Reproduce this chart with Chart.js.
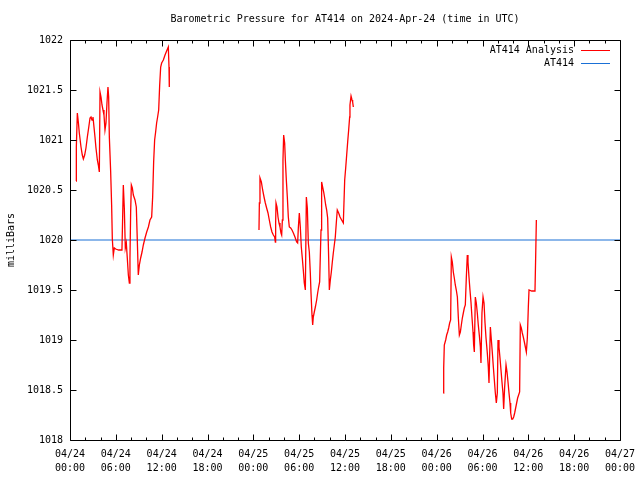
<!DOCTYPE html>
<html>
<head>
<meta charset="utf-8">
<script src="https://cdn.jsdelivr.net/npm/chart.js@4.4.1/dist/chart.umd.min.js"></script>
<style>
	html, body { margin: 0; padding: 0; background: #fff; }
	canvas { display: block; }
</style>
</head>
<body>
<canvas id="pressure-chart" width="640" height="480"></canvas>
<script>
const chartTitle = "Barometric Pressure for AT414 on 2024-Apr-24 (time in UTC)";
const yAxisTitle = "milliBars";
const seriesNames = ["AT414 Analysis", "AT414"];

// hours after 04/24 00:00 UTC
const run1Hours = [0.79, 0.83, 0.96, 1.09, 1.22, 1.44, 1.61, 1.75, 1.92, 2.09, 2.27, 2.44, 2.62, 2.75, 2.88, 3.01, 3.14, 3.27, 3.40, 3.58, 3.71, 3.84, 3.93, 4.06, 4.19, 4.32, 4.45, 4.58, 4.71, 4.84, 4.97, 5.06, 5.15, 5.32, 5.45, 5.54, 5.67, 5.80, 5.98, 6.37, 6.80, 6.89, 6.98, 7.11, 7.24, 7.37, 7.50, 7.64, 7.77, 7.85, 7.94, 8.03, 8.16, 8.29, 8.51, 8.68, 8.81, 8.94, 9.08, 9.25, 9.43, 9.60, 9.82, 10.04, 10.26, 10.47, 10.69, 10.82, 10.95, 11.08, 11.21, 11.34, 11.47, 11.61, 11.74, 11.87, 12.00, 12.22, 12.44, 12.65, 12.87, 12.96, 13.00];
const run1Values = [1020.59, 1020.93, 1021.27, 1021.18, 1021.07, 1020.93, 1020.85, 1020.81, 1020.85, 1020.92, 1021.03, 1021.12, 1021.22, 1021.23, 1021.20, 1021.23, 1021.13, 1021.03, 1020.92, 1020.80, 1020.75, 1020.68, 1021.48, 1021.43, 1021.35, 1021.30, 1021.25, 1021.10, 1021.17, 1021.37, 1021.53, 1021.43, 1021.03, 1020.69, 1020.35, 1020.01, 1019.85, 1019.92, 1019.91, 1019.90, 1019.90, 1020.22, 1020.55, 1020.32, 1019.92, 1019.97, 1019.82, 1019.65, 1019.57, 1019.82, 1020.28, 1020.55, 1020.52, 1020.45, 1020.40, 1020.33, 1020.00, 1019.65, 1019.75, 1019.82, 1019.88, 1019.95, 1020.02, 1020.08, 1020.13, 1020.20, 1020.23, 1020.43, 1020.78, 1021.00, 1021.08, 1021.17, 1021.23, 1021.30, 1021.55, 1021.73, 1021.77, 1021.80, 1021.85, 1021.89, 1021.93, 1021.73, 1021.53];

const run2Hours = [24.74, 24.79, 24.87, 25.05, 25.22, 25.40, 25.57, 25.74, 25.92, 26.09, 26.27, 26.44, 26.62, 26.79, 26.88, 26.92, 26.97, 27.10, 27.23, 27.36, 27.49, 27.62, 27.71, 27.80, 27.88, 27.97, 28.10, 28.19, 28.32, 28.45, 28.58, 28.71, 28.89, 29.06, 29.24, 29.45, 29.67, 29.80, 29.89, 30.02, 30.15, 30.28, 30.41, 30.54, 30.67, 30.81, 30.94, 31.07, 31.20, 31.33, 31.46, 31.55, 31.68, 31.77, 31.85, 31.98, 32.12, 32.29, 32.42, 32.55, 32.68, 32.86, 32.94, 33.07, 33.21, 33.34, 33.47, 33.60, 33.73, 33.86, 33.95, 34.08, 34.21, 34.34, 34.47, 34.60, 34.73, 34.86, 34.99, 35.17, 35.35, 35.56, 35.78, 35.96, 36.09, 36.22, 36.35, 36.48, 36.61, 36.65, 36.79, 36.92, 37.00, 37.09];
const run2Values = [1020.10, 1020.37, 1020.62, 1020.58, 1020.50, 1020.43, 1020.37, 1020.32, 1020.27, 1020.20, 1020.13, 1020.08, 1020.05, 1020.03, 1019.98, 1020.17, 1020.37, 1020.33, 1020.23, 1020.17, 1020.13, 1020.07, 1020.05, 1020.20, 1020.80, 1021.05, 1020.97, 1020.80, 1020.60, 1020.43, 1020.23, 1020.13, 1020.12, 1020.10, 1020.07, 1020.03, 1019.98, 1019.97, 1020.12, 1020.27, 1020.13, 1019.93, 1019.82, 1019.70, 1019.57, 1019.50, 1020.43, 1020.32, 1019.97, 1019.88, 1019.67, 1019.47, 1019.25, 1019.15, 1019.23, 1019.28, 1019.33, 1019.40, 1019.47, 1019.53, 1019.58, 1020.10, 1020.58, 1020.53, 1020.48, 1020.42, 1020.35, 1020.30, 1020.22, 1019.83, 1019.50, 1019.60, 1019.68, 1019.78, 1019.87, 1019.95, 1020.03, 1020.17, 1020.30, 1020.27, 1020.23, 1020.20, 1020.17, 1020.60, 1020.72, 1020.85, 1020.98, 1021.10, 1021.23, 1021.35, 1021.44, 1021.40, 1021.38, 1021.33];

const run3Hours = [48.87, 48.92, 49.00, 49.18, 49.31, 49.44, 49.57, 49.70, 49.83, 49.92, 50.05, 50.18, 50.31, 50.44, 50.57, 50.71, 50.84, 50.97, 51.10, 51.23, 51.36, 51.49, 51.62, 51.75, 51.88, 52.01, 52.10, 52.23, 52.36, 52.49, 52.62, 52.76, 52.84, 52.93, 53.06, 53.19, 53.32, 53.45, 53.58, 53.72, 53.80, 53.93, 54.07, 54.20, 54.33, 54.46, 54.63, 54.76, 54.85, 55.03, 55.16, 55.29, 55.42, 55.55, 55.68, 55.81, 55.94, 56.03, 56.16, 56.29, 56.42, 56.55, 56.68, 56.77, 56.90, 57.08, 57.21, 57.34, 57.47, 57.60, 57.69, 57.82, 57.95, 58.08, 58.21, 58.34, 58.47, 58.60, 58.73, 58.86, 58.95, 59.08, 59.21, 59.34, 59.48, 59.61, 59.74, 59.87, 60.00, 60.09, 60.44, 60.87, 60.96, 61.05];
const run3Values = [1018.47, 1018.72, 1018.95, 1019.00, 1019.05, 1019.08, 1019.12, 1019.17, 1019.20, 1019.83, 1019.78, 1019.68, 1019.62, 1019.55, 1019.50, 1019.43, 1019.22, 1019.05, 1019.08, 1019.15, 1019.22, 1019.27, 1019.32, 1019.35, 1019.62, 1019.85, 1019.78, 1019.63, 1019.50, 1019.38, 1019.23, 1019.08, 1018.95, 1018.88, 1019.43, 1019.37, 1019.27, 1019.15, 1019.05, 1018.93, 1018.77, 1019.27, 1019.43, 1019.37, 1019.17, 1019.02, 1018.87, 1018.73, 1018.57, 1019.13, 1019.00, 1018.87, 1018.73, 1018.60, 1018.47, 1018.37, 1018.47, 1019.00, 1018.93, 1018.82, 1018.70, 1018.58, 1018.47, 1018.31, 1018.53, 1018.75, 1018.68, 1018.58, 1018.47, 1018.37, 1018.27, 1018.21, 1018.21, 1018.23, 1018.27, 1018.32, 1018.37, 1018.42, 1018.45, 1018.48, 1019.15, 1019.12, 1019.07, 1019.03, 1018.98, 1018.93, 1018.88, 1019.02, 1019.33, 1019.50, 1019.49, 1019.49, 1019.83, 1020.20];

const stationHours = [0, 72];
const stationValues = [1020, 1020];

const tickDates = ["04/24", "04/24", "04/24", "04/24", "04/25", "04/25", "04/25", "04/25", "04/26", "04/26", "04/26", "04/26", "04/27"];
const tickTimes = ["00:00", "06:00", "12:00", "18:00", "00:00", "06:00", "12:00", "18:00", "00:00", "06:00", "12:00", "18:00", "00:00"];

const monoFont = "DejaVu Sans Mono";
const redColor = "#ff0000";
const blueColor = "#1a70d6";

function toPoints(hours, values) {
	return hours.map((h, i) => ({ x: h, y: values[i] }));
}

function analysisPoints() {
	const gap = (h) => ({ x: h, y: null });
	return [
		...toPoints(run1Hours, run1Values),
		gap(18),
		...toPoints(run2Hours, run2Values),
		gap(42),
		...toPoints(run3Hours, run3Values),
	];
}

const framePlugin = {
	id: "frame",
	afterDraw(chart) {
		const ctx = chart.ctx;
		const area = chart.chartArea;
		const xs = chart.scales.x;
		const ys = chart.scales.y;
		const L = Math.round(area.left) + 0.5;
		const R = Math.round(area.right) + 0.5;
		const T = Math.round(area.top) + 0.5;
		const B = Math.round(area.bottom) + 0.5;
		ctx.save();
		ctx.strokeStyle = "#000";
		ctx.lineWidth = 1;
		ctx.beginPath();
		ctx.rect(L, T, R - L, B - T);
		xs.ticks.forEach((t) => {
			const px = Math.round(xs.getPixelForValue(t.value)) + 0.5;
			const len = t.value % 6 === 0 ? 6 : 3;
			ctx.moveTo(px, B);
			ctx.lineTo(px, B - len);
			ctx.moveTo(px, T);
			ctx.lineTo(px, T + len);
		});
		ys.ticks.forEach((t) => {
			const py = Math.round(ys.getPixelForValue(t.value)) + 0.5;
			ctx.moveTo(L, py);
			ctx.lineTo(L + 6, py);
			ctx.moveTo(R, py);
			ctx.lineTo(R - 6, py);
		});
		ctx.stroke();

		// title
		ctx.fillStyle = "#000";
		ctx.font = "10px '" + monoFont + "'";
		ctx.textAlign = "center";
		ctx.textBaseline = "middle";
		ctx.fillText(chartTitle, (area.left + area.right) / 2, 19);

		// legend, text left of sample line
		ctx.textAlign = "right";
		chart.data.datasets.forEach((ds, i) => {
			const y = 50 + i * 13;
			ctx.fillText(ds.label, 574, y);
			ctx.strokeStyle = ds.borderColor;
			ctx.beginPath();
			ctx.moveTo(581, Math.round(y) + 0.5);
			ctx.lineTo(610, Math.round(y) + 0.5);
			ctx.stroke();
		});
		ctx.restore();
	},
};

function drawPressureChart() {
	const ctx = document.getElementById("pressure-chart").getContext("2d");

	new Chart(ctx, {
		type: "line",
		data: {
			datasets: [
				{
					label: seriesNames[0],
					data: analysisPoints(),
					borderColor: redColor,
					borderWidth: 1.3,
					pointRadius: 0,
					spanGaps: false,
					tension: 0,
				},
				{
					label: seriesNames[1],
					data: toPoints(stationHours, stationValues),
					borderColor: blueColor,
					borderWidth: 1.2,
					pointRadius: 0,
					tension: 0,
				},
			],
		},
		options: {
			responsive: false,
			animation: false,
			devicePixelRatio: 1,
			layout: {
				padding: { top: 40, right: 20, left: 0, bottom: 0 },
			},
			plugins: {
				legend: { display: false },
				title: { display: false },
				tooltip: { enabled: false },
			},
			scales: {
				x: {
					type: "linear",
					min: 0,
					max: 72,
					grid: { display: false, drawTicks: false },
					border: { display: false },
					ticks: {
						stepSize: 2,
						autoSkip: false,
						maxRotation: 0,
						padding: 7,
						color: "#000",
						font: { family: monoFont, size: 10, lineHeight: 1.4 },
						callback: (v) =>
							v % 6 === 0 ? [tickDates[v / 6], tickTimes[v / 6]] : "",
					},
					afterFit: (scale) => {
						scale.height = 40;
						scale.paddingLeft = 0;
						scale.paddingRight = 0;
					},
				},
				y: {
					min: 1018,
					max: 1022,
					grid: { display: false, drawTicks: false },
					border: { display: false },
					ticks: {
						stepSize: 0.5,
						padding: 7,
						color: "#000",
						font: { family: monoFont, size: 10 },
						callback: (v) => String(v),
					},
					title: {
						display: true,
						text: yAxisTitle,
						color: "#000",
						font: { family: monoFont, size: 10 },
						padding: { top: 5, bottom: 4 },
					},
					afterFit: (scale) => {
						scale.width = 70;
					},
				},
			},
		},
		plugins: [framePlugin],
	});
}

drawPressureChart();
</script>
</body>
</html>
